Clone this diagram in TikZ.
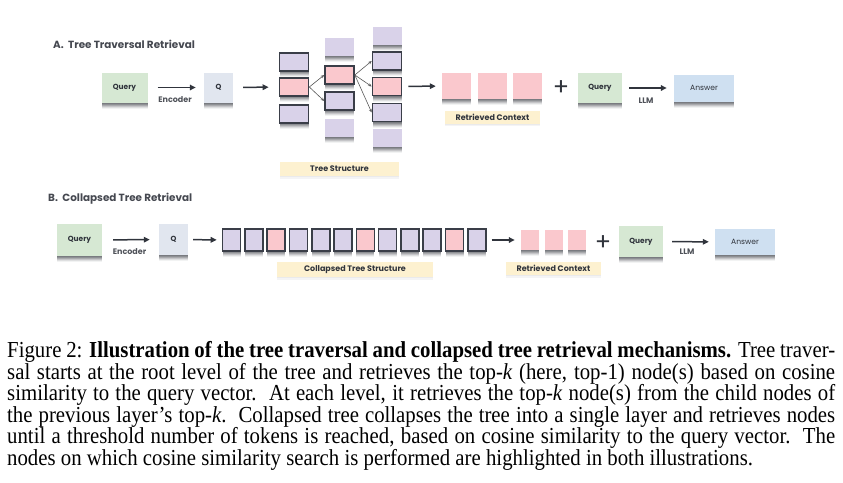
\documentclass[tikz,border=0pt]{standalone}
\usepackage{fontspec}
\setmainfont{Liberation Serif}
\newfontfamily\pop{Poppins}
\usetikzlibrary{arrows.meta}
\definecolor{txt}{HTML}{30343C}
\definecolor{edgec}{HTML}{3A3E48}
\definecolor{lav}{HTML}{D9D2E9}
\definecolor{pinkc}{HTML}{FAC8CD}
\definecolor{qgreen}{HTML}{D6E8D3}
\definecolor{qblue}{HTML}{E1E6EF}
\definecolor{ansc}{HTML}{CFE0F1}
\definecolor{labc}{HTML}{FDF1D0}
\definecolor{shc}{HTML}{2A2D35}
\tikzset{
  shad/.style={
    preaction={fill=shc, opacity=0.22, transform canvas={yshift=-1pt}},
    preaction={fill=shc, opacity=0.20, transform canvas={yshift=-2pt}},
    preaction={fill=shc, opacity=0.18, transform canvas={yshift=-3pt}},
    preaction={fill=shc, opacity=0.14, transform canvas={yshift=-4pt}},
    preaction={fill=shc, opacity=0.10, transform canvas={yshift=-5pt}},
    preaction={fill=shc, opacity=0.06, transform canvas={yshift=-6pt}}},
  lshad/.style={
    preaction={fill=shc, opacity=0.05, transform canvas={yshift=-1pt}},
    preaction={fill=shc, opacity=0.05, transform canvas={yshift=-2.5pt}}},
  bx/.style={inner sep=0pt, text=txt, font=\pop\bfseries\fontsize{7.4}{8}\selectfont, shad},
  qry/.style={bx, fill=qgreen},
  qv/.style={bx, fill=qblue},
  ans/.style={bx, fill=ansc, font=\pop\fontsize{7.6}{8}\selectfont},
  tn/.style={inner sep=0pt, shad, fill=lav, draw=edgec, line width=1.6pt, minimum width=29pt, minimum height=18pt},
  tnp/.style={tn, fill=pinkc},
  tnf/.style={inner sep=0pt, shad, fill=lav, minimum width=29pt, minimum height=18pt},
  cn/.style={inner sep=0pt, shad, fill=lav, draw=edgec, line width=1.6pt, minimum width=18pt, minimum height=22.5pt},
  cnp/.style={cn, fill=pinkc},
  rc/.style={inner sep=0pt, shad, fill=pinkc},
  lbl/.style={inner sep=0pt, fill=labc, lshad, text=txt, font=\pop\bfseries\fontsize{8}{9}\selectfont},
  elbl/.style={inner sep=0pt, text=txt!85, font=\pop\bfseries\fontsize{8}{9}\selectfont},
  ttl/.style={inner sep=0pt, anchor=west, text=txt!90, font=\pop\bfseries\fontsize{10.4}{12}\selectfont},
  arr/.style={-{Triangle[length=6pt,width=5.5pt]}, line width=1.5pt, draw=txt},
  tarr/.style={-{Stealth[length=3.5pt,width=3pt]}, line width=0.6pt, draw=black!65},
  pls/.style={inner sep=0pt, text=txt, font=\pop\fontsize{24}{24}\selectfont},
  capl/.style={inner sep=0pt, anchor=base west, font=\fontsize{20.8}{21}\selectfont},
}
\newcommand{\capline}[1]{\scalebox{1}[1.1]{#1}}
\begin{document}
\begin{tikzpicture}[x=1pt,y=-1pt]
\useasboundingbox (0,0) rectangle (843,482);
% ---------- A ----------
\node[ttl] (tA) at (53,44) {A.\ \ Tree Traversal Retrieval};
\node[qry, minimum width=46pt, minimum height=30pt] (qA) at (124.5,87.5) {Query};
\node[qv, minimum width=29pt, minimum height=30pt] (vA) at (218.5,87.5) {Q};
\draw[arr, shorten <=10pt, shorten >=8pt] (qA) -- (vA);
\node[elbl] (encA) at (175,100) {Encoder};
% tree columns
\node[tn]  (a1) at (294,62) {};
\node[tnp] (a2) at (294,87) {};
\node[tn]  (a3) at (294,114) {};
\node[tnf] (b0) at (339.5,47) {};
\node[tnp] (b1) at (339.5,75) {};
\node[tn]  (b2) at (339.5,101) {};
\node[tnf] (b3) at (339.5,128) {};
\node[tnf] (c0) at (387,36) {};
\node[tn]  (c1) at (387,61) {};
\node[tnp] (c2) at (387,86.5) {};
\node[tn]  (c3) at (387,112.5) {};
\node[tnf] (c4) at (387,138) {};
\draw[arr, shorten <=10pt, shorten >=10pt] (vA) -- (a2);
\draw[tarr] (a2.east) -- (b1.west);
\draw[tarr] (a2.east) -- (b2.west);
\draw[tarr] (b1.east) -- (c1.west);
\draw[tarr] (b1.east) -- (c2.west);
\draw[tarr] (b1.east) -- (c3.west);
\node[lbl, minimum width=119pt, minimum height=14pt] (tsA) at (339.5,169) {Tree Structure};
% retrieved
\node[rc, minimum width=29pt, minimum height=26pt] (r1) at (456.5,86) {};
\node[rc, minimum width=29pt, minimum height=26pt] (r2) at (492.5,86) {};
\node[rc, minimum width=29pt, minimum height=26pt] (r3) at (527.5,86) {};
\draw[arr, shorten <=6pt, shorten >=6pt] (c2) -- (r1);
\node[lbl, minimum width=95pt, minimum height=13pt] (rcA) at (492.5,117) {Retrieved Context};
\node[pls] (pA) at (561,88) {+};
\node[qry, minimum width=44pt, minimum height=30pt] (q2A) at (600,88) {Query};
\node[ans, minimum width=60pt, minimum height=27pt] (aA) at (704,88) {Answer};
\draw[arr, shorten <=7pt, shorten >=7pt] (q2A) -- (aA);
\node[elbl] (llmA) at (646,101) {LLM};
% ---------- B ----------
\node[ttl] (tB) at (48,199) {B.\ \ Collapsed Tree Retrieval};
\node[qry, minimum width=45pt, minimum height=32pt] (qB) at (79.5,240) {Query};
\node[qv, minimum width=29pt, minimum height=31pt] (vB) at (173.5,239.5) {Q};
\draw[arr, shorten <=11pt, shorten >=9pt] (qB) -- (vB);
\node[elbl] (encB) at (129.5,252) {Encoder};
\foreach \i/\s in {0/cn,1/cn,2/cnp,3/cn,4/cn,5/cn,6/cnp,7/cn,8/cn,9/cn,10/cnp,11/cn}{
  \node[\s] (k\i) at ({231.5+22.3*\i},240) {};
}
\draw[arr, shorten <=5pt, shorten >=5pt] (vB) -- (k0);
\node[lbl, minimum width=156pt, minimum height=15pt] (ctsB) at (355,269.5) {Collapsed Tree Structure};
\node[rc, minimum width=18pt, minimum height=20pt] (s1) at (530,240) {};
\node[rc, minimum width=18pt, minimum height=20pt] (s2) at (553.5,240) {};
\node[rc, minimum width=18pt, minimum height=20pt] (s3) at (577,240) {};
\draw[arr, shorten <=5pt, shorten >=6pt] (k11) -- (s1);
\node[lbl, minimum width=95pt, minimum height=13pt] (rcB) at (553.5,268.5) {Retrieved Context};
\node[pls] (pB) at (603,243) {+};
\node[qry, minimum width=44pt, minimum height=31pt] (q2B) at (641,241.5) {Query};
\node[ans, minimum width=60pt, minimum height=26pt] (aB) at (745,242) {Answer};
\draw[arr, shorten <=9pt, shorten >=6pt] (q2B) -- (aB);
\node[elbl] (llmB) at (687,252) {LLM};
% ---------- caption ----------
\node[capl] (l1) at (7,357.5) {\capline{\makebox[828pt][s]{Figure 2: \textbf{Illustration of the tree traversal and collapsed tree retrieval mechanisms.} Tree traver-}}};
\node[capl] (l2) at (7,379) {\capline{\makebox[828pt][s]{sal starts at the root level of the tree and retrieves the top-\textit{k} (here, top-1) node(s) based on cosine}}};
\node[capl] (l3) at (7,400.5) {\capline{\makebox[828pt][s]{similarity to the query vector.\ \ At each level, it retrieves the top-\textit{k} node(s) from the child nodes of}}};
\node[capl] (l4) at (7,422) {\capline{\makebox[828pt][s]{the previous layer’s top-\textit{k}.\ \ Collapsed tree collapses the tree into a single layer and retrieves nodes}}};
\node[capl] (l5) at (7,443.5) {\capline{\makebox[828pt][s]{until a threshold number of tokens is reached, based on cosine similarity to the query vector.\ \ The}}};
\node[capl] (l6) at (7,465) {\capline{nodes on which cosine similarity search is performed are highlighted in both illustrations.}};
\end{tikzpicture}
\end{document}
